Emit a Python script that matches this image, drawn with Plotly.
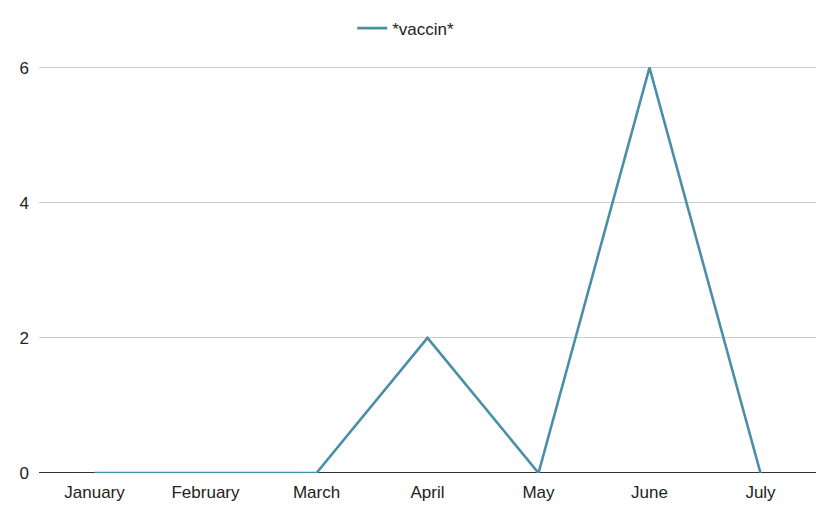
import plotly.graph_objects as go

months = ["January", "February", "March", "April", "May", "June", "July"]
vaccin = [0, 0, 0, 2, 0, 6, 0]
series_name = "*vaccin*"
y_ticks = [0, 2, 4, 6]

fig = go.Figure()
fig.add_trace(go.Scatter(
    x=months, y=vaccin, mode="lines", name=series_name,
    line=dict(color="#4a8fa8", width=2.6),
))

fig.update_layout(
    width=823, height=514,
    margin=dict(l=28, r=15, t=55, b=49),
    paper_bgcolor="white", plot_bgcolor="white",
    font=dict(family="Liberation Sans, Arial, sans-serif", size=17, color="#222"),
    showlegend=True,
    legend=dict(orientation="h", x=0.472, xanchor="center",
                yref="container", y=0.96, yanchor="middle",
                font=dict(size=17, color="#222"), itemwidth=30),
    xaxis=dict(type="category", range=[-0.5, 6.5], showgrid=False, showline=False,
               zeroline=False, ticks="", ticklabelstandoff=7),
    yaxis=dict(range=[0, 6.03], tickvals=y_ticks, showgrid=True, gridcolor="#cccccc",
               gridwidth=1, zeroline=True, zerolinecolor="#333333", zerolinewidth=1,
               showline=False, ticks="", ticklabelstandoff=9),
)

fig.write_html("out.html")
